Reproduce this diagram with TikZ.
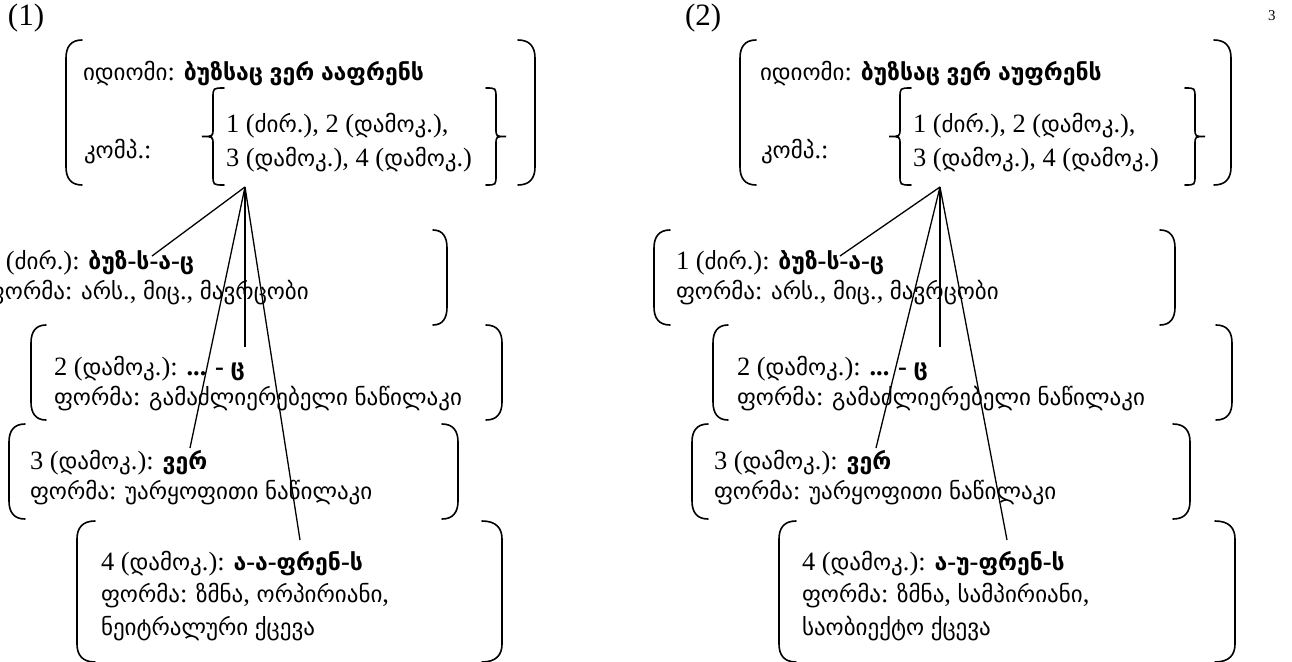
\documentclass[tikz,border=0pt]{standalone}
\usepackage{fontspec}
\setmainfont{Liberation Serif}[Scale=1.15]
\newfontfamily\geofont{DejaVu Sans}

% Georgian letters are set in DejaVu Sans, everything else in the main font
\XeTeXinterchartokenstate=1
\newXeTeXintercharclass\GeoClass
\count255="10A0
\loop\ifnum\count255<"1100
  \XeTeXcharclass\count255=\GeoClass
  \advance\count255 by 1
\repeat
\XeTeXinterchartoks 0 \GeoClass = {\geofont}
\XeTeXinterchartoks 4095 \GeoClass = {\geofont}
\XeTeXinterchartoks \GeoClass 0 = {\rmfamily}
\XeTeXinterchartoks \GeoClass 4095 = {\rmfamily}

% tall parenthesis: vertical x, tip x, top y, bottom y
\newcommand\TallParen[4]{%
  \draw[brk] (#2,#3) .. controls ({#1+0.3*(#2-#1)},#3) and (#1,{#3+7}) .. (#1,{#3+18})
    -- (#1,{#4-18}) .. controls (#1,{#4-7}) and ({#1+0.3*(#2-#1)},#4) .. (#2,#4);}
% a pair of tall parentheses: left vertical, left tip, right vertical, right tip, top, bottom
\newcommand\ParenPair[6]{\TallParen{#1}{#2}{#5}{#6}\TallParen{#3}{#4}{#5}{#6}}
% curly brace: point x, stem x, end x, top y, bottom y
\newcommand\TallBrace[5]{%
  \draw[brk] (#3,#4) .. controls (#2,#4) .. (#2,{#4+10})
    -- (#2,{(#4+#5)/2-8}) .. controls (#2,{(#4+#5)/2}) .. (#1,{(#4+#5)/2})
    .. controls (#2,{(#4+#5)/2}) .. (#2,{(#4+#5)/2+8})
    -- (#2,{#5-10}) .. controls (#2,#5) .. (#3,#5);}

\begin{document}
\begin{tikzpicture}[x=1pt,y=-1pt,
  txt/.style={anchor=base west, inner sep=0pt, outer sep=0pt,
    font=\fontsize{23}{33}\selectfont},
  tag/.style={anchor=base west, inner sep=0pt, outer sep=0pt,
    font=\fontsize{27}{30}\selectfont},
  link/.style={line width=1.3pt},
  brk/.style={line width=1.6pt, line cap=round}]
\useasboundingbox (0,0) rectangle (1292,661);
\clip (0,0) rectangle (1292,661);
\fill[white] (0,0) rectangle (1292,661);

% ---------------- analysis (1) ----------------
\node[tag] (L-label) at (8,26) {(1)};
\ParenPair{66}{82}{535}{518}{40}{185}
\node[txt] (L-idiom) at (83,80) {იდიომი: \textbf{ბუზსაც ვერ ააფრენს}};
\node[txt] (L-komp) at (84,158) {კომპ.:};
\TallBrace{202}{213}{224}{88}{185}
\TallBrace{506}{496}{486}{88}{185}
\node[txt] (L-row1) at (226,132) {1 (ძირ.), 2 (დამოკ.),};
\node[txt] (L-row2) at (226,166) {3 (დამოკ.), 4 (დამოკ.)};
\coordinate (L-apex) at (245,187);

\ParenPair{-36}{-20}{447}{433}{230}{325}
\node[txt] (L-c1a) at (-14,269) {1 (ძირ.): \textbf{ბუზ-ს-ა-ც}};
\node[txt] (L-c1b) at (-14,299) {ფორმა: არს., მიც., მავრცობი};
\coordinate (L-m1) at (152,256);

\ParenPair{31}{46}{502}{486}{325}{420}
\node[txt] (L-c2a) at (54,375) {2 (დამოკ.): \textbf{... - ც}};
\node[txt] (L-c2b) at (54,405) {ფორმა: გამაძლიერებელი ნაწილაკი};
\coordinate (L-m2) at (245,347);

\ParenPair{9}{25}{458}{442}{424}{519}
\node[txt] (L-c3a) at (30,469) {3 (დამოკ.): \textbf{ვერ}};
\node[txt] (L-c3b) at (30,499) {ფორმა: უარყოფითი ნაწილაკი};
\coordinate (L-m3) at (190,448);

\ParenPair{77}{95}{502}{482}{521}{662}
\node[txt] (L-c4a) at (101,570) {4 (დამოკ.): \textbf{ა-ა-ფრენ-ს}};
\node[txt] (L-c4b) at (101,602) {ფორმა: ზმნა, ორპირიანი,};
\node[txt] (L-c4c) at (101,635) {ნეიტრალური ქცევა};
\coordinate (L-m4) at (300,540);

\draw[link] (L-apex) -- (L-m1);
\draw[link] (L-apex) -- (L-m2);
\draw[link] (L-apex) -- (L-m3);
\draw[link] (L-apex) -- (L-m4);

% ---------------- analysis (2) ----------------
\node[tag] (R-label) at (685,26) {(2)};
\ParenPair{740}{756}{1231}{1214}{40}{185}
\node[txt] (R-idiom) at (760,80) {იდიომი: \textbf{ბუზსაც ვერ აუფრენს}};
\node[txt] (R-komp) at (761,158) {კომპ.:};
\TallBrace{889}{900}{911}{88}{185}
\TallBrace{1205}{1195}{1185}{88}{185}
\node[txt] (R-row1) at (913,132) {1 (ძირ.), 2 (დამოკ.),};
\node[txt] (R-row2) at (913,166) {3 (დამოკ.), 4 (დამოკ.)};
\coordinate (R-apex) at (940,187);

\ParenPair{654}{670}{1175}{1160}{230}{325}
\node[txt] (R-c1a) at (676,269) {1 (ძირ.): \textbf{ბუზ-ს-ა-ც}};
\node[txt] (R-c1b) at (676,299) {ფორმა: არს., მიც., მავრცობი};
\coordinate (R-m1) at (840,256);

\ParenPair{713}{728}{1232}{1216}{325}{420}
\node[txt] (R-c2a) at (737,375) {2 (დამოკ.): \textbf{... - ც}};
\node[txt] (R-c2b) at (737,405) {ფორმა: გამაძლიერებელი ნაწილაკი};
\coordinate (R-m2) at (940,347);

\ParenPair{692}{708}{1190}{1173}{424}{519}
\node[txt] (R-c3a) at (714,469) {3 (დამოკ.): \textbf{ვერ}};
\node[txt] (R-c3b) at (714,499) {ფორმა: უარყოფითი ნაწილაკი};
\coordinate (R-m3) at (876,448);

\ParenPair{779}{796}{1235}{1215}{521}{662}
\node[txt] (R-c4a) at (802,570) {4 (დამოკ.): \textbf{ა-უ-ფრენ-ს}};
\node[txt] (R-c4b) at (802,602) {ფორმა: ზმნა, სამპირიანი,};
\node[txt] (R-c4c) at (802,635) {საობიექტო ქცევა};
\coordinate (R-m4) at (1007,540);

\draw[link] (R-apex) -- (R-m1);
\draw[link] (R-apex) -- (R-m2);
\draw[link] (R-apex) -- (R-m3);
\draw[link] (R-apex) -- (R-m4);

\node[anchor=base west, inner sep=0pt, font=\fontsize{13}{15}\selectfont] (pagenum) at (1268,21) {3};
\end{tikzpicture}
\end{document}
